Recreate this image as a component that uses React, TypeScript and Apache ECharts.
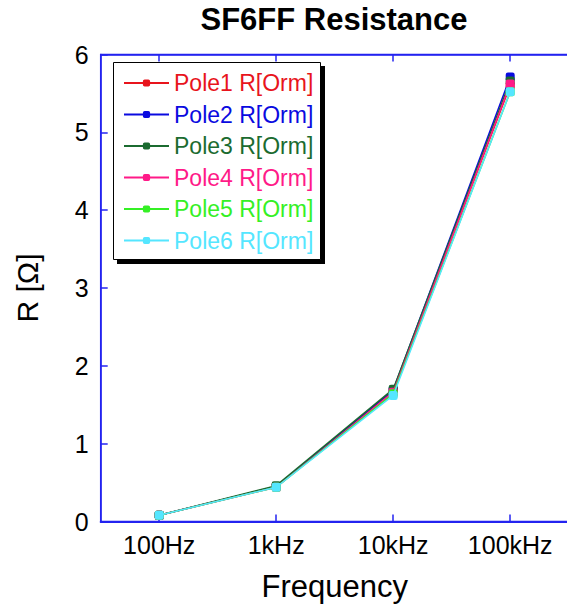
import React, { useEffect, useRef } from "react";
import * as echarts from "echarts";

const categories = ["100Hz", "1kHz", "10kHz", "100kHz"];
const yTicks = [0, 1, 2, 3, 4, 5, 6];

const pole1 = [0.08, 0.45, 1.68, 5.6];
const pole2 = [0.08, 0.45, 1.69, 5.71];
const pole3 = [0.08, 0.46, 1.7, 5.66];
const pole4 = [0.08, 0.44, 1.66, 5.62];
const pole5 = [0.08, 0.44, 1.64, 5.52];
const pole6 = [0.08, 0.44, 1.62, 5.52];

const seriesNames = [
  "Pole1 R[Orm]",
  "Pole2 R[Orm]",
  "Pole3 R[Orm]",
  "Pole4 R[Orm]",
  "Pole5 R[Orm]",
  "Pole6 R[Orm]",
];
const seriesColors = ["#e8141c", "#0a0ae0", "#1b6b30", "#ff1a88", "#35f025", "#55e6ff"];
const seriesValues = [pole1, pole2, pole3, pole4, pole5, pole6];

const FONT = "'Liberation Sans', Arial, sans-serif";
const FRAME = "#2323f0";

const GRID_LEFT = 100.7;
const GRID_TOP = 54.5;
const GRID_W = 468;
const GRID_H = 467;

export default function App() {
  const ref = useRef<HTMLDivElement>(null);

  useEffect(() => {
    if (!ref.current) return;
    const chart = echarts.init(ref.current, undefined, { renderer: "svg" });

    const tickStyle = { show: true, inside: true, length: 7, lineStyle: { color: FRAME, width: 1.5 } };

    const option: any = {
      animation: false,
      backgroundColor: "#ffffff",
      grid: {
        left: GRID_LEFT,
        top: GRID_TOP,
        width: GRID_W,
        height: GRID_H,
        containLabel: false,
        outerBoundsMode: "none",
        show: true,
        borderColor: FRAME,
        borderWidth: 1.5,
        backgroundColor: "transparent",
      },
      xAxis: [
        {
          type: "category",
          data: categories,
          position: "bottom",
          boundaryGap: true,
          axisLine: { show: true, lineStyle: { color: FRAME, width: 2 } },
          axisTick: { ...tickStyle, alignWithLabel: true },
          axisLabel: { color: "#000", fontFamily: FONT, fontSize: 25, margin: 11 },
          splitLine: { show: false },
          name: "Frequency",
          nameLocation: "middle",
          nameGap: 49,
          nameTextStyle: { color: "#000", fontFamily: FONT, fontSize: 31 },
        },
        {
          type: "category",
          data: categories,
          position: "top",
          boundaryGap: true,
          axisLine: { show: true, lineStyle: { color: FRAME, width: 1.5 } },
          axisTick: { ...tickStyle, alignWithLabel: true },
          axisLabel: { show: false },
          splitLine: { show: false },
        },
      ],
      yAxis: {
        type: "value",
        min: yTicks[0],
        max: yTicks[yTicks.length - 1],
        interval: 1,
        axisLine: { show: true, lineStyle: { color: FRAME, width: 1.5 } },
        axisTick: tickStyle,
        axisLabel: { color: "#000", fontFamily: FONT, fontSize: 25, margin: 12 },
        splitLine: { show: false },
        name: "R [Ω]",
        nameLocation: "middle",
        nameGap: 58,
        nameRotate: 90,
        nameTextStyle: { color: "#000", fontFamily: FONT, fontSize: 30 },
      },
      legend: {
        orient: "vertical",
        left: 123,
        top: 71.5,
        itemWidth: 45,
        itemHeight: 9,
        itemGap: 8.5,
        padding: 0,
        selectedMode: false,
        z: 60,
        textStyle: { fontFamily: FONT, fontSize: 23, lineHeight: 22, padding: [0, 0, 0, 0] },
        data: seriesNames.map((name, i) => ({ name, textStyle: { color: seriesColors[i] } })),
      },
      graphic: [
        {
          type: "rect",
          shape: { x: 117, y: 66, width: 208, height: 198 },
          style: { fill: "#000" },
          z: 50,
        },
        {
          type: "rect",
          shape: { x: 113.5, y: 62.5, width: 207, height: 197 },
          style: { fill: "#fff", stroke: "#000", lineWidth: 1 },
          z: 51,
        },
        {
          type: "text",
          x: 334,
          y: 4,
          style: {
            text: "SF6FF Resistance",
            fill: "#000",
            font: `bold 31px ${FONT}`,
            textAlign: "center",
            textVerticalAlign: "top",
          },
        },
      ],
      series: seriesNames.map((name, i) => ({
        name,
        type: "line",
        data: seriesValues[i],
        symbol: "roundRect",
        symbolSize: 9,
        itemStyle: { color: seriesColors[i] },
        lineStyle: { color: seriesColors[i], width: 1.5 },
        z: 10 + i,
      })),
    };

    chart.setOption(option);
    return () => chart.dispose();
  }, []);

  return (
    <div
      ref={ref}
      style={{ position: "absolute", left: 0, top: 0, width: 567, height: 606 }}
    />
  );
}
